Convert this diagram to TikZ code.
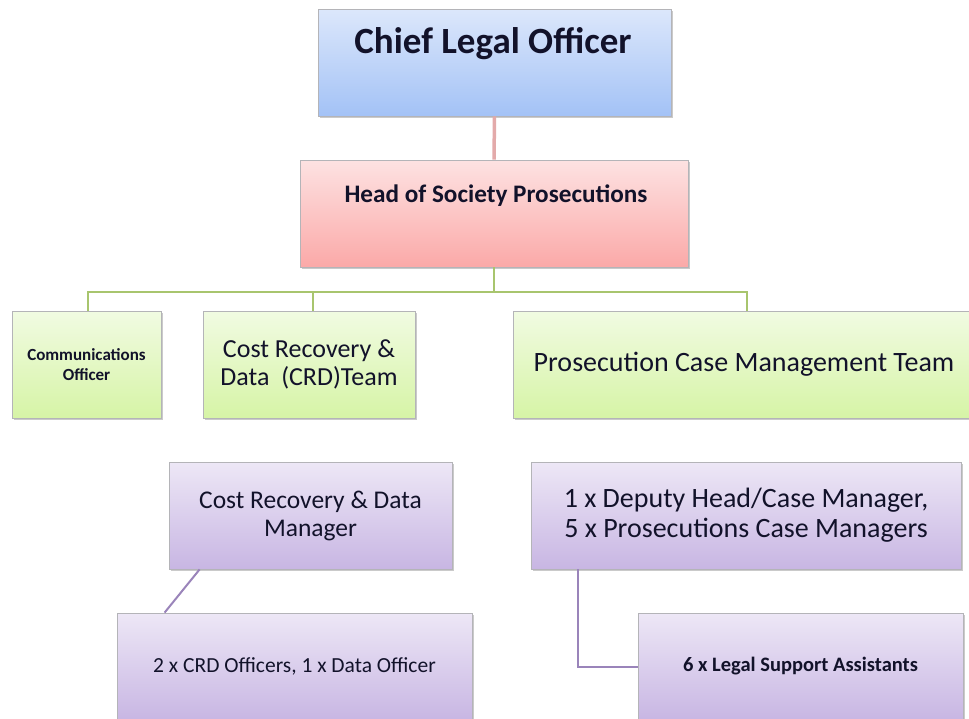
\documentclass[tikz,border=0pt]{standalone}
\usepackage{fontspec}
\setmainfont{Carlito}
\usetikzlibrary{shadows,calc}

\definecolor{blueTop}{HTML}{DCE7FB}
\definecolor{blueBot}{HTML}{A3C2F6}
\definecolor{redTop}{HTML}{FDE2E2}
\definecolor{redBot}{HTML}{FBA9A8}
\definecolor{greenTop}{HTML}{F1FBE2}
\definecolor{greenBot}{HTML}{D6F4A6}
\definecolor{purpleTop}{HTML}{EDE7F6}
\definecolor{purpleBot}{HTML}{C8B6E3}
\definecolor{boxLine}{HTML}{B4B4B8}
\definecolor{redLink}{HTML}{E3AAAA}
\definecolor{greenLink}{HTML}{A8C56E}
\definecolor{purpleLink}{HTML}{9A84BA}
\definecolor{ink}{HTML}{12122A}

\begin{document}
\begin{tikzpicture}[x=1pt,y=-1pt,
  orgbox/.style={rectangle, draw=boxLine, line width=0.8pt, minimum height=107pt,
    inner sep=0pt, align=center, text=ink,
    drop shadow={shadow xshift=1.5pt, shadow yshift=-1.5pt, opacity=0.35, fill=black!60}},
  bluebox/.style={orgbox, top color=blueTop, bottom color=blueBot},
  redbox/.style={orgbox, top color=redTop, bottom color=redBot},
  greenbox/.style={orgbox, top color=greenTop, bottom color=greenBot},
  purplebox/.style={orgbox, top color=purpleTop, bottom color=purpleBot},
  boxtext/.style={inner sep=0pt, align=center, text=ink},
  redline/.style={draw=redLink, line width=3.5pt},
  greenline/.style={draw=greenLink, line width=2pt},
  purpleline/.style={draw=purpleLink, line width=2pt}
]
\useasboundingbox (0,0) rectangle (969,718);

% top two levels
\node[bluebox, minimum width=353pt] (clo) at (494.5,62.5) {};
\node[boxtext, font=\fontsize{37}{42}\selectfont\bfseries] (clotext) at (493,44) {Chief Legal Officer};

\node[redbox, minimum width=388pt] (head) at (494,213.5) {};
\node[boxtext, font=\fontsize{25.2}{29}\selectfont\bfseries] (headtext) at (496,196) {Head of Society Prosecutions};

% teams
\node[greenbox, minimum width=149pt, font=\fontsize{17}{20}\selectfont\bfseries] (comms) at (86.5,364.5) {Communications\\Officer};
\node[greenbox, minimum width=212pt, font=\fontsize{26}{28}\selectfont] (crdt) at (309,364.5) {Cost Recovery \&\\Data\ \ (CRD)Team};
\node[greenbox, minimum width=462pt, font=\fontsize{28}{30}\selectfont] (pcm) at (744,364.5) {Prosecution Case Management Team};

% managers
\node[purplebox, minimum width=283pt, font=\fontsize{25.5}{28}\selectfont] (crdm) at (310.5,515.5) {Cost Recovery \& Data\\Manager};
\node[purplebox, minimum width=430pt, font=\fontsize{28}{30}\selectfont] (dep) at (746,515.5) {1 x Deputy Head/Case Manager,\\5 x Prosecutions Case Managers};

% staff
\node[purplebox, minimum width=355pt, font=\fontsize{21.5}{24}\selectfont] (crdo) at (294.5,666.5) {2 x CRD Officers, 1 x Data Officer};
\node[purplebox, minimum width=325pt, font=\fontsize{20.5}{24}\selectfont\bfseries] (lsa) at (800.5,666.5) {6 x Legal Support Assistants};

% connectors
\draw[redline] (clo.south) -- (head.north);

\coordinate (bus) at ($(head.south)+(0,25)$);
\draw[greenline] (head.south) -- (bus);
\draw[greenline] (bus) -| ($(comms.north)+(1.5,0)$);
\draw[greenline] (bus) -| ($(crdt.north)+(4,0)$);
\draw[greenline] (bus) -| ($(pcm.north)+(3,0)$);

\draw[purpleline] ($(crdt.south)+(4,0)$) -- ($(crdt.south)+(4,0)$ |- crdm.north);
\draw[purpleline] ($(crdm.south west)+(31,0)$) -- ($(crdo.north west)+(48,0)$);

\draw[purpleline] ($(pcm.south)+(3,0)$) -- ($(pcm.south)+(3,0)$ |- dep.north);
\draw[purpleline] ($(dep.south west)+(47,0)$) |- (lsa.west);
\end{tikzpicture}
\end{document}
